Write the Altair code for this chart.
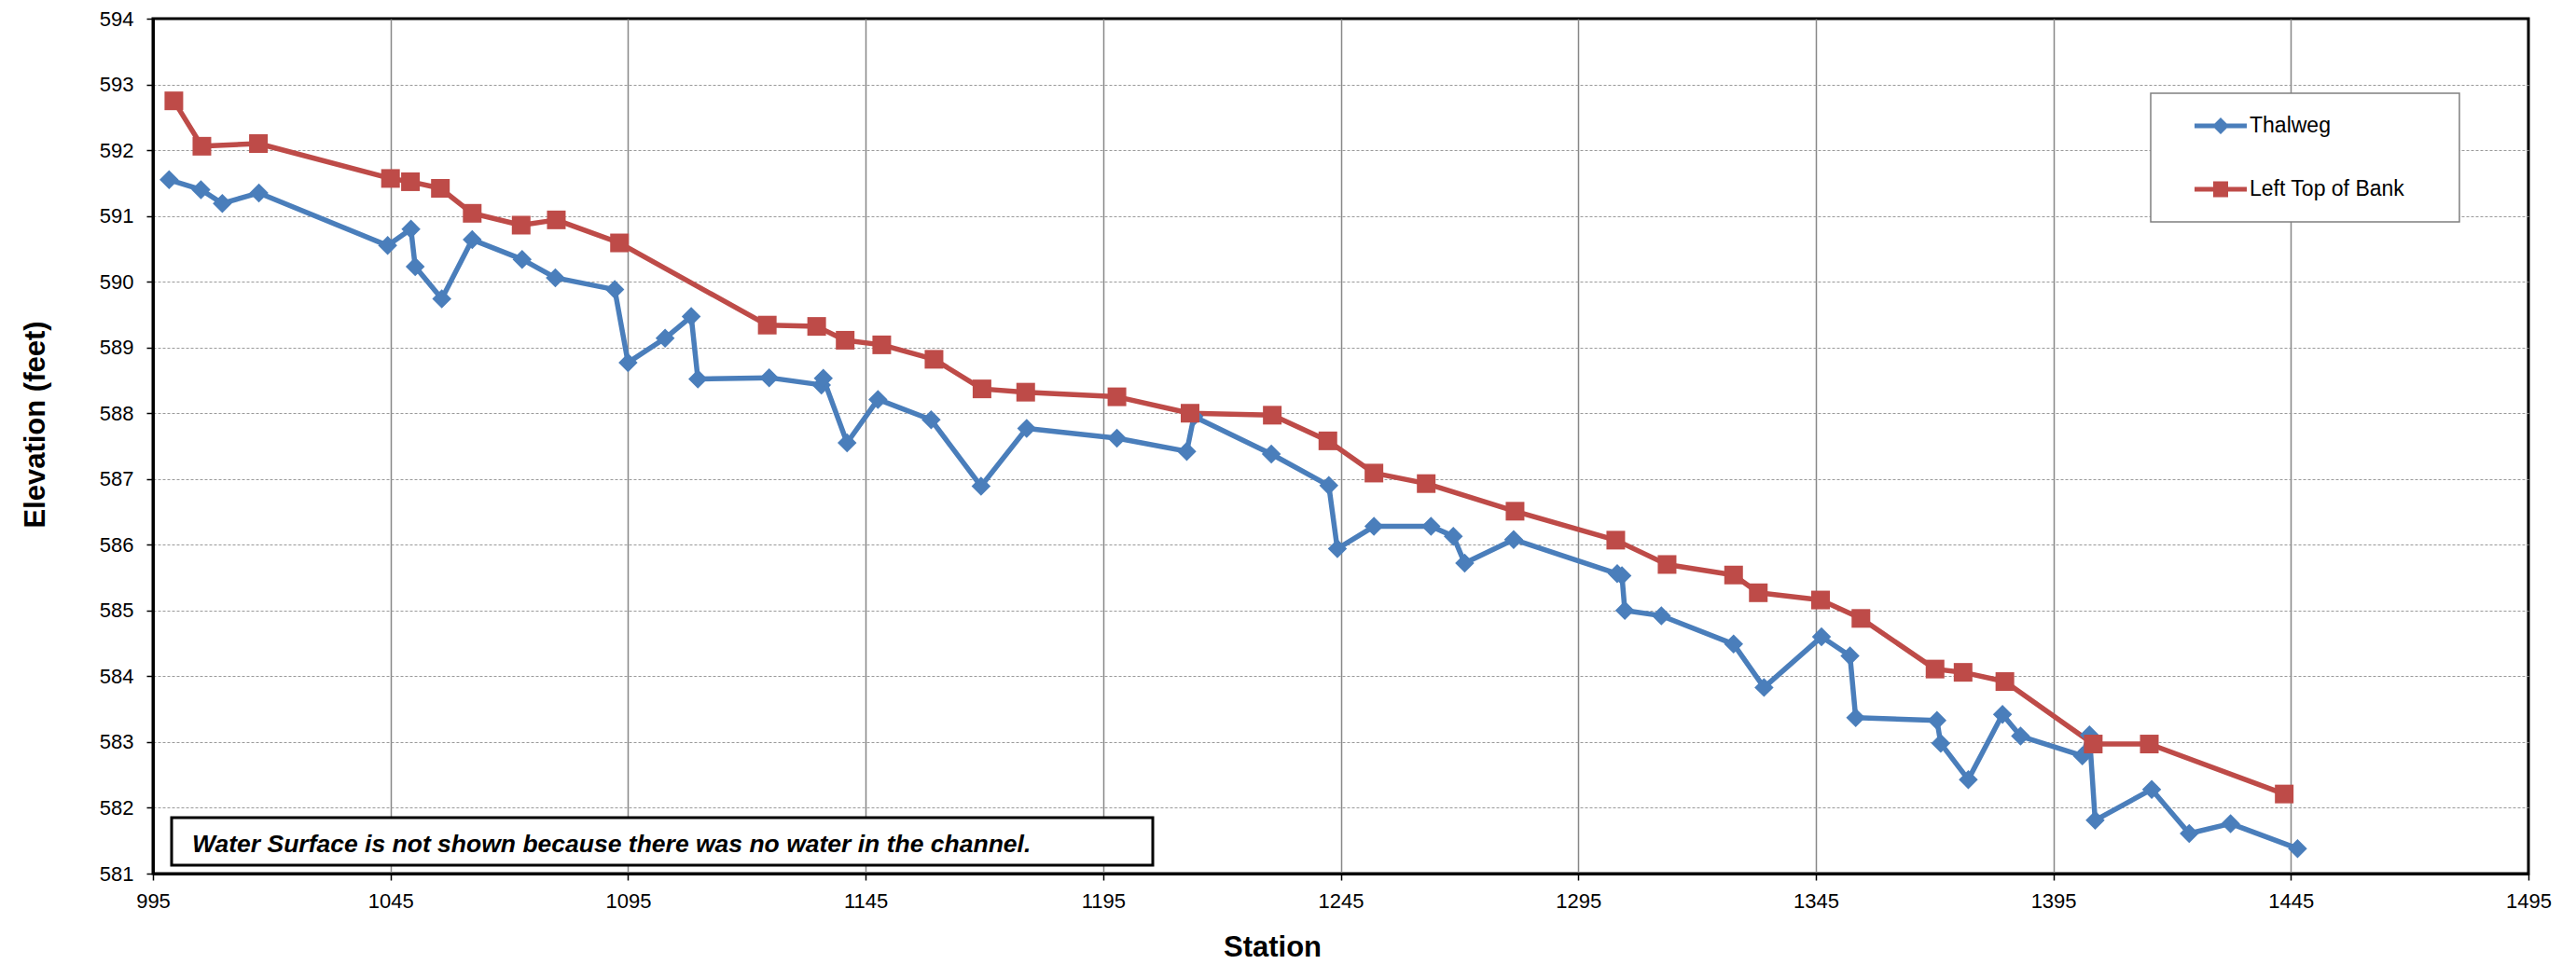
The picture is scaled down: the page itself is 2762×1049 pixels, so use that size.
import altair as alt
import pandas as pd

# ---------------- data ----------------
thalweg_station = [998.4, 1005.1, 1009.6, 1017.3, 1044.4, 1049.3, 1050.2, 1055.8, 1062.2, 1072.7,
                   1079.7, 1092.2, 1095.0, 1102.8, 1108.3, 1109.7, 1124.7, 1135.7, 1136.1, 1141.1,
                   1147.6, 1158.8, 1169.3, 1178.9, 1197.9, 1212.6, 1214.1, 1230.4, 1242.5, 1244.3,
                   1252.0, 1264.0, 1268.7, 1271.1, 1281.4, 1303.2, 1304.2, 1304.8, 1312.5, 1327.7,
                   1334.1, 1346.2, 1352.2, 1353.4, 1370.5, 1371.3, 1377.1, 1384.3, 1388.1, 1401.1,
                   1402.6, 1403.8, 1415.7, 1423.6, 1432.3, 1446.4]
thalweg_elev = [591.55, 591.40, 591.19, 591.35, 590.55, 590.80, 590.23, 589.74, 590.64, 590.34,
                590.06, 589.88, 588.77, 589.14, 589.47, 588.52, 588.54, 588.43, 588.53, 587.55,
                588.21, 587.90, 586.89, 587.77, 587.62, 587.42, 587.95, 587.38, 586.90, 585.94,
                586.28, 586.28, 586.13, 585.72, 586.08, 585.56, 585.53, 585.00, 584.92, 584.49,
                583.83, 584.60, 584.31, 583.37, 583.33, 582.98, 582.43, 583.42, 583.09, 582.79,
                583.11, 581.81, 582.28, 581.61, 581.76, 581.38]

bank_station = [999.4, 1005.3, 1017.2, 1045.0, 1049.2, 1055.5, 1062.2, 1072.5, 1079.9, 1093.2,
                1124.3, 1134.7, 1140.7, 1148.4, 1159.4, 1169.5, 1178.7, 1197.9, 1213.3, 1230.6,
                1242.3, 1252.0, 1263.0, 1281.7, 1302.9, 1313.7, 1327.7, 1332.9, 1346.0, 1354.5,
                1370.1, 1376.0, 1384.8, 1403.4, 1415.2, 1443.6]
bank_elev = [592.75, 592.06, 592.10, 591.57, 591.52, 591.42, 591.04, 590.86, 590.94, 590.59,
             589.34, 589.32, 589.11, 589.04, 588.82, 588.37, 588.32, 588.25, 588.00, 587.97,
             587.58, 587.09, 586.93, 586.51, 586.07, 585.70, 585.54, 585.27, 585.16, 584.88,
             584.11, 584.06, 583.92, 582.97, 582.97, 582.21]

series_names = ["Thalweg", "Left Top of Bank"]
x_ticks = [995, 1045, 1095, 1145, 1195, 1245, 1295, 1345, 1395, 1445, 1495]
y_ticks = [581, 582, 583, 584, 585, 586, 587, 588, 589, 590, 591, 592, 593, 594]
note_text = "Water Surface is not shown because there was no water in the channel."

rows = []
for i, (s, e) in enumerate(zip(thalweg_station, thalweg_elev)):
    rows.append({"series": series_names[0], "station": s, "elev": e, "idx": i})
for i, (s, e) in enumerate(zip(bank_station, bank_elev)):
    rows.append({"series": series_names[1], "station": s, "elev": e, "idx": i})
df = pd.DataFrame(rows)

# ---------------- styling ----------------
FONT = "Liberation Sans"
colors = ["#4A7EBB", "#BE4B48"]
color_scale = alt.Scale(domain=series_names, range=colors)

x_enc = alt.X(
    "station:Q",
    scale=alt.Scale(domain=[995, 1495], nice=False, zero=False),
    axis=alt.Axis(
        values=x_ticks, title="Station", format="d",
        grid=True, gridColor="#878787", gridWidth=1.5,
        gridOpacity={"condition": {"test": "datum.value == 995 || datum.value == 1495", "value": 0}, "value": 1},
        domain=True, domainColor="black", domainWidth=3,
        ticks=True, tickColor="black", tickWidth=1.5, tickSize=7,
        labelFont=FONT, labelFontSize=22, labelColor="black", labelPadding=12,
        labelFlush=False, labelOverlap=False,
        titleFont=FONT, titleFontSize=31, titleFontWeight="bold", titleColor="black",
        titleX=1200, titleY=88, titleBaseline="alphabetic", titleAlign="center",
    ),
)
y_enc = alt.Y(
    "elev:Q",
    scale=alt.Scale(domain=[581, 594], nice=False, zero=False),
    axis=alt.Axis(
        values=y_ticks, title="Elevation (feet)", format="d",
        grid=True, gridColor="#9a9a9a", gridWidth=1, gridDash=[3, 2],
        gridOpacity={"condition": {"test": "datum.value == 581 || datum.value == 594", "value": 0}, "value": 1},
        domain=True, domainColor="black", domainWidth=3,
        ticks=True, tickColor="black", tickWidth=1.5, tickSize=7,
        labelFont=FONT, labelFontSize=22, labelColor="black", labelPadding=14,
        labelFlush=False, labelOverlap=False,
        titleFont=FONT, titleFontSize=31, titleFontWeight="bold", titleColor="black",
        titleAngle=270, titleX=-117, titleY=435, titleBaseline="alphabetic", titleAlign="center",
    ),
)

color_nolegend = alt.Color("series:N", scale=color_scale, legend=None)

# legend symbols: line + marker (unit = 20 px); trailing moveTo points only widen the frame
path_thal = ("M0.6,-0.13L3.4,-0.13L3.4,0.13L0.6,0.13Z"
             "M2,-0.45L2.45,0L2,0.45L1.55,0Z"
             "M14.05,-1M14.05,1")
path_bank = ("M0.6,-0.13L3.4,-0.13L3.4,0.13L0.6,0.13Z"
             "M1.6,-0.42L2.4,-0.42L2.4,0.42L1.6,0.42Z"
             "M14.05,-1M14.05,1")

leg = alt.Legend(
    title=None, orient="none", legendX=2142, legendY=80,
    padding=15, rowPadding=28, symbolSize=1600, symbolStrokeWidth=0,
    symbolOpacity=1, labelOffset=51, labelFont=FONT, labelFontSize=23,
    labelColor="black", labelLimit=400, fillColor="white", strokeColor="#808080",
)
# invisible layer that only carries the legend (placed first so its legend wins the merge)
legend_layer = alt.Chart(df).mark_point(filled=True, opacity=0).encode(
    x=x_enc, y=y_enc,
    color=alt.Color("series:N", scale=color_scale, legend=leg),
    shape=alt.Shape("series:N", scale=alt.Scale(domain=series_names, range=[path_thal, path_bank]), legend=leg),
)

lines = alt.Chart(df).mark_line(strokeWidth=5.5, strokeJoin="round").encode(
    x=x_enc, y=y_enc, color=color_nolegend, order="idx:Q"
)
thal_pts = alt.Chart(df).transform_filter(alt.datum.series == series_names[0]).mark_point(
    shape="diamond", filled=True, size=420, opacity=1
).encode(x=x_enc, y=y_enc, color=color_nolegend)
bank_pts = alt.Chart(df).transform_filter(alt.datum.series == series_names[1]).mark_point(
    shape="square", filled=True, size=400, opacity=1
).encode(x=x_enc, y=y_enc, color=color_nolegend)

note_data = alt.Data(values=[{"note": note_text}])
note_box = alt.Chart(note_data).mark_rect(fill="white", stroke="black", strokeWidth=3).encode(
    x=alt.value(20), x2=alt.value(1072), y=alt.value(857), y2=alt.value(908)
)
note_txt = alt.Chart(note_data).mark_text(
    align="left", baseline="alphabetic", font=FONT, fontSize=26.5,
    fontStyle="italic", fontWeight="bold", color="black"
).encode(x=alt.value(42), y=alt.value(894), text="note:N")

chart = alt.layer(legend_layer, lines, thal_pts, bank_pts, note_box, note_txt).properties(
    width=2547, height=917,
    autosize=alt.AutoSizeParams(type="none"),
    padding={"left": 156, "top": 12, "right": 30, "bottom": 100},
).configure_view(stroke="black", strokeWidth=3).configure_legend(strokeWidth=1.5)

chart.save("out.html", embed_options={"renderer": "svg", "actions": False})
